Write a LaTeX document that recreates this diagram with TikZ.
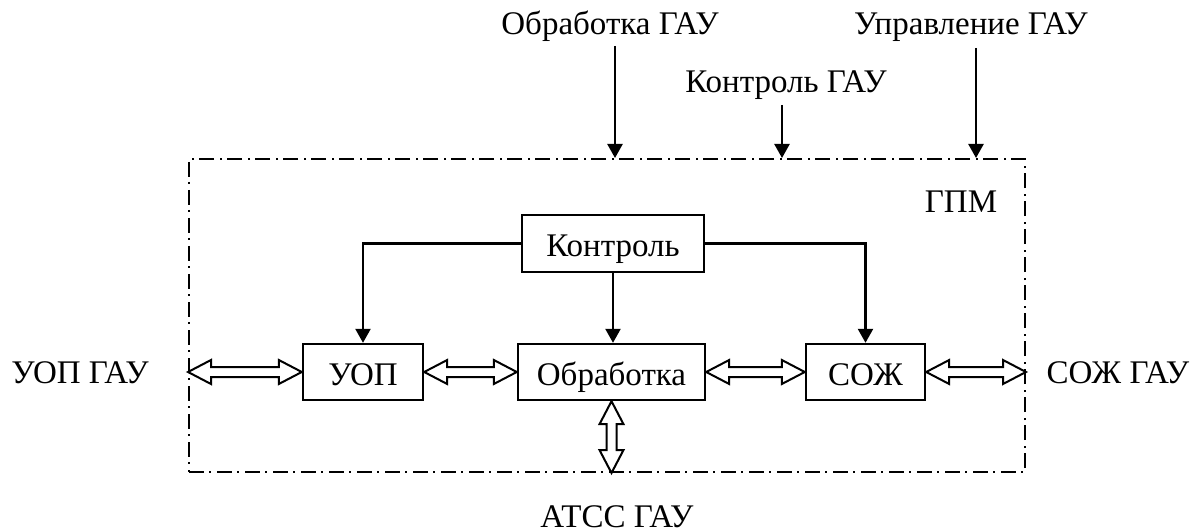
\documentclass[tikz,border=0pt]{standalone}
\usepackage{fontspec}
\setmainfont{Liberation Serif}
\usetikzlibrary{arrows.meta,calc}

\tikzset{
  block/.style={draw, line width=2.4pt, inner sep=0pt, text height=26pt, text depth=0pt},
  frame/.style={draw, line width=2pt, dash pattern=on 15pt off 5pt on 2pt off 6pt, inner sep=0pt},
  ctl/.style={line width=2.4pt, -{Triangle[length=14pt,width=15pt]}},
  hollow/.style={draw, line width=2pt, fill=white, line join=miter},
  lbl/.style={anchor=base, inner sep=0pt},
}

% horizontal hollow double arrow between two points (left, right)
\newcommand\hollowH[2]{%
  \draw[hollow] let \p1=#1, \p2=#2 in
    (\x1,\y2) -- (\x1+23pt,\y2+12pt) -- (\x1+23pt,\y2+5pt) -- (\x2-23pt,\y2+5pt)
    -- (\x2-23pt,\y2+12pt) -- (\x2,\y2) -- (\x2-23pt,\y2-12pt) -- (\x2-23pt,\y2-5pt)
    -- (\x1+23pt,\y2-5pt) -- (\x1+23pt,\y2-12pt) -- cycle;}
% vertical hollow double arrow between two points (top, bottom)
\newcommand\hollowV[2]{%
  \draw[hollow] let \p1=#1, \p2=#2 in
    (\x1,\y1) -- (\x1+12pt,\y1-23pt) -- (\x1+5pt,\y1-23pt) -- (\x1+5pt,\y2+23pt)
    -- (\x1+12pt,\y2+23pt) -- (\x1,\y2) -- (\x1-12pt,\y2+23pt) -- (\x1-5pt,\y2+23pt)
    -- (\x1-5pt,\y1-23pt) -- (\x1-12pt,\y1-23pt) -- cycle;}

\begin{document}
\begin{tikzpicture}[x=1pt, y=-1pt, font=\fontsize{33}{38}\selectfont]
\useasboundingbox (0,0) rectangle (1200,532);

% outer module boundary
\node[frame, minimum width=836pt, minimum height=313pt] (gpm) at (607,315.5) {};
\node[lbl] (gpmlbl) at (961,212) {ГПМ};

% inner blocks
\node[block, minimum width=182pt, minimum height=57pt] (kon) at (613,243.5) {Контроль};
\node[block, minimum width=120pt, minimum height=56pt] (uop) at (363,372) {УОП};
\node[block, minimum width=187pt, minimum height=56pt] (obr) at (611.5,372) {Обработка};
\node[block, minimum width=119pt, minimum height=56pt] (soj) at (865.5,372) {СОЖ};

% control links
\draw[ctl] (kon.west) -| (uop.north);
\draw[ctl] (kon.east) -| (soj.north);
\draw[ctl] (kon.south) -- (kon.south |- obr.north);

% data exchange links
\coordinate (lin) at (gpm.west |- uop.west);
\coordinate (rin) at (gpm.east |- soj.east);
\coordinate (bin) at (obr.south |- gpm.south);
\hollowH{(lin)}{(uop.west)}
\hollowH{(uop.east)}{(obr.west)}
\hollowH{(obr.east)}{(soj.west)}
\hollowH{(soj.east)}{(rin)}
\hollowV{(obr.south)}{(bin)}

% external labels
\node[lbl] (t1) at (610,35) {Обработка ГАУ};
\node[lbl] (t2) at (786,93) {Контроль ГАУ};
\node[lbl] (t3) at (971,35) {Управление ГАУ};
\node[lbl] (l1) at (80,383) {УОП ГАУ};
\node[lbl] (r1) at (1118,383) {СОЖ ГАУ};
\node[lbl] (b1) at (617,527) {АТСС ГАУ};

% incoming control from outside
\coordinate (s1) at (615,46);
\coordinate (s2) at (782,105);
\coordinate (s3) at (976,48);
\draw[ctl] (s1) -- (s1 |- gpm.north);
\draw[ctl] (s2) -- (s2 |- gpm.north);
\draw[ctl] (s3) -- (s3 |- gpm.north);
\end{tikzpicture}
\end{document}
